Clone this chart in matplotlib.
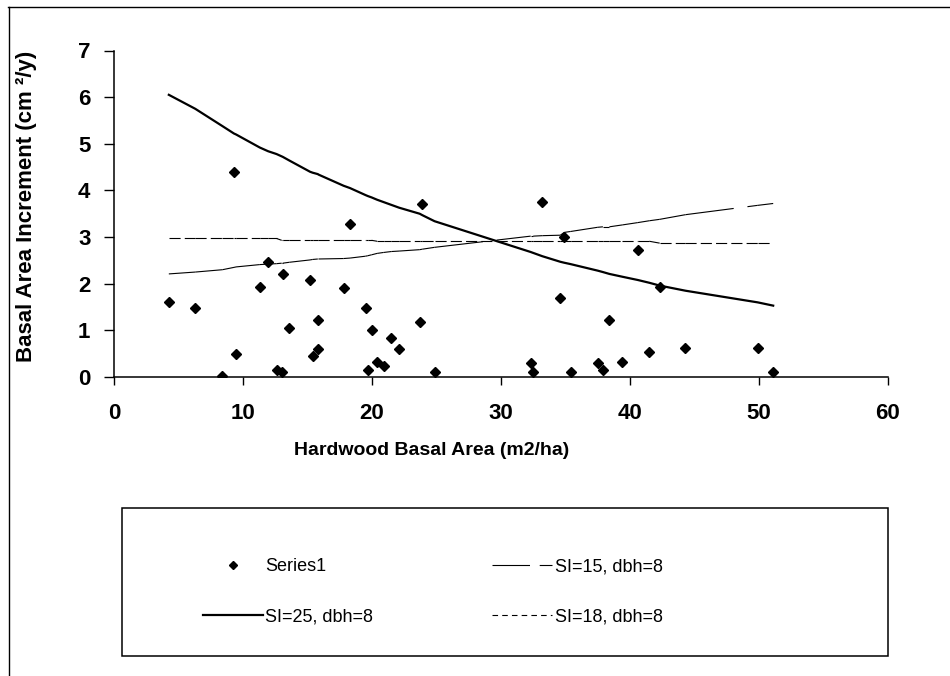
import matplotlib
matplotlib.use('Agg')
import matplotlib.pyplot as plt
from matplotlib.lines import Line2D
from matplotlib.patches import Rectangle

plt.rcParams['font.family'] = ['Liberation Sans', 'DejaVu Sans']
plt.rcParams['lines.scale_dashes'] = False

# observed basal area increment vs hardwood basal area
bai_x = [4.25, 6.3, 8.4, 9.46, 11.3, 11.95, 12.6, 13.0, 13.08, 13.6, 15.2, 15.4,
         15.85, 15.8, 17.8, 19.5, 19.67, 19.97, 20.4, 20.9, 21.5, 22.1, 23.7, 24.85,
         9.3, 18.3, 23.9, 34.9, 40.6, 42.3, 34.6, 38.4, 32.3, 32.5, 35.4, 37.5,
         37.9, 39.4, 41.5, 44.3, 49.9, 51.1, 33.2]
bai_y = [1.61, 1.47, 0.02, 0.49, 1.94, 2.47, 0.15, 0.10, 2.21, 1.05, 2.08, 0.45,
         0.59, 1.22, 1.90, 1.47, 0.15, 1.01, 0.33, 0.23, 0.84, 0.61, 1.18, 0.10,
         4.39, 3.29, 3.71, 3.00, 2.73, 1.92, 1.69, 1.23, 0.29, 0.10, 0.10, 0.29,
         0.15, 0.32, 0.53, 0.63, 0.63, 0.11, 3.75]

# model predictions, evaluated at the sorted hardwood basal areas
line_x = [4.25, 6.3, 8.4, 9.3, 9.46, 11.3, 11.95, 12.6, 13.0, 13.08, 13.6, 15.2,
          15.4, 15.8, 15.85, 17.8, 18.3, 19.5, 19.67, 19.97, 20.4, 20.9, 21.5, 22.1,
          23.7, 23.9, 24.85, 32.3, 32.5, 33.2, 34.6, 34.9, 35.4, 37.5, 37.9, 38.4,
          39.4, 40.6, 41.5, 42.3, 44.3, 49.9, 51.1]
si25 = [6.05, 5.75, 5.38, 5.22, 5.20, 4.92, 4.84, 4.78, 4.73, 4.72, 4.64, 4.40,
        4.38, 4.35, 4.34, 4.10, 4.05, 3.90, 3.88, 3.85, 3.80, 3.75, 3.69, 3.63,
        3.50, 3.47, 3.34, 2.68, 2.66, 2.59, 2.47, 2.45, 2.42, 2.28, 2.25, 2.21,
        2.15, 2.08, 2.02, 1.96, 1.85, 1.60, 1.53]
si15 = [2.21, 2.25, 2.30, 2.35, 2.36, 2.41, 2.42, 2.43, 2.44, 2.44, 2.46, 2.51,
        2.52, 2.53, 2.53, 2.54, 2.55, 2.59, 2.60, 2.62, 2.65, 2.67, 2.69, 2.70,
        2.73, 2.74, 2.78, 3.02, 3.02, 3.03, 3.04, 3.10, 3.12, 3.21, 3.22, 3.22,
        3.26, 3.31, 3.35, 3.38, 3.48, 3.68, 3.72]
si18 = [2.97, 2.97, 2.97, 2.97, 2.97, 2.97, 2.97, 2.97, 2.93, 2.93, 2.93, 2.93,
        2.93, 2.93, 2.93, 2.93, 2.93, 2.93, 2.93, 2.93, 2.91, 2.91, 2.91, 2.91,
        2.91, 2.91, 2.91, 2.91, 2.91, 2.91, 2.91, 2.91, 2.91, 2.91, 2.91, 2.91,
        2.91, 2.91, 2.91, 2.87, 2.87, 2.87, 2.87]

legend_labels = ['Series1', 'SI=25, dbh=8', 'SI=15, dbh=8', 'SI=18, dbh=8']


def segmented(ax, x, y, dashes, lw):
    # dash pattern restarts on every segment, like the spreadsheet does
    for i in range(len(x) - 1):
        ax.plot(x[i:i + 2], y[i:i + 2], color='black', lw=lw,
                dashes=dashes, dash_capstyle='butt')


fig = plt.figure(figsize=(9.5, 6.76), dpi=100)
ax = fig.add_axes([114 / 950, 1 - 377 / 676, 774 / 950, 326.5 / 676])

ax.plot(line_x, si25, color='black', lw=1.6)
segmented(ax, line_x, si15, (35, 10), 0.8)
segmented(ax, line_x, si18, (8, 3), 0.8)
ax.plot(bai_x, bai_y, ls='none', marker='D', ms=4.8, color='black', zorder=3)

ax.set_xlim(0, 60)
ax.set_ylim(0, 7)
ax.set_xticks(range(0, 61, 10))
ax.set_yticks(range(0, 8))
for s in ['top', 'right']:
    ax.spines[s].set_visible(False)
for s in ['left', 'bottom']:
    ax.spines[s].set_linewidth(1.1)
ax.tick_params(axis='y', direction='out', length=7, width=1, labelsize=16, pad=10)
ax.tick_params(axis='x', direction='out', length=6, width=1, labelsize=16, pad=13)
for lbl in ax.get_xticklabels() + ax.get_yticklabels():
    lbl.set_fontweight('bold')

ax.set_xlabel('Hardwood Basal Area (m2/ha)', fontsize=14, fontweight='bold')
ax.set_ylabel('Basal Area Increment (cm \u00b2/y)', fontsize=16, fontweight='bold')
ax.xaxis.set_label_coords((432 - 114) / 774, -0.2)
ax.yaxis.set_label_coords(-0.1, 0.524)

# legend
handles = [
    Line2D([], [], ls='none', marker='D', ms=3.6, color='black'),
    Line2D([], [], color='black', lw=1.6),
    Line2D([], [], color='black', lw=0.8, dashes=(27, 7)),
    Line2D([], [], color='black', lw=0.8, dashes=(4, 3)),
]
fig.legend(handles, legend_labels, ncol=2, loc='upper left',
           bbox_to_anchor=(203 / 950, 1 - 558 / 676), frameon=False,
           fontsize=13, handlelength=3.3, handletextpad=0.15,
           columnspacing=6.6, labelspacing=1.85, borderpad=0, borderaxespad=0)
fig.add_artist(Rectangle((122 / 950, 1 - 656 / 676), 766 / 950, 148 / 676,
                         transform=fig.transFigure, fill=False, lw=1.1, ec='black'))

# outer chart border
fig.add_artist(Line2D([8 / 950, 1], [1 - 6.5 / 676] * 2,
                      transform=fig.transFigure, color='black', lw=1))
fig.add_artist(Line2D([8.5 / 950] * 2, [0, 1 - 6.5 / 676],
                      transform=fig.transFigure, color='black', lw=1))

fig.savefig('out.png', dpi=100)
